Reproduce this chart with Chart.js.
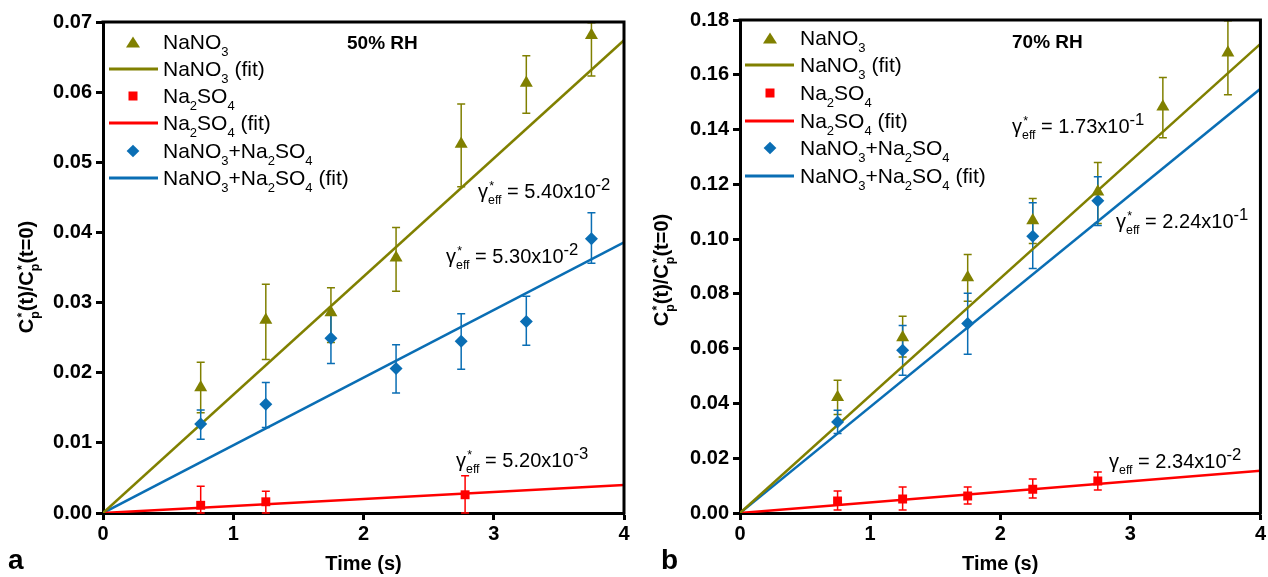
<!DOCTYPE html>
<html lang="en">
<head>
  <meta charset="UTF-8">
  <title>Uptake - 50% RH and 70% RH</title>
  <script src="https://cdn.jsdelivr.net/npm/chart.js"></script>
  <style>
    body { margin: 0; background: #fff; font-family: "Liberation Sans", Arial, sans-serif; }
    #wrap { position: relative; width: 1268px; height: 577px; overflow: hidden; }
    canvas { position: absolute; top: 0; }
    .t { position: absolute; white-space: nowrap; color: #000; line-height: 20px; }
    .leg { font-size: 21px; }
    .ann { font-size: 20px; }
    .rh { font-size: 19px; font-weight: bold; }
    .panel { font-size: 28px; font-weight: bold; }
    .ytitle { font-size: 20px; font-weight: bold; transform: translate(-50%, -50%) rotate(-90deg); }
    sub { font-size: 0.62em; vertical-align: -0.5em; line-height: 0; }
    .ss { display: inline-block; position: relative; font-size: 0.62em; vertical-align: -0.5em; line-height: 0; }
    .ss i { font-style: normal; position: absolute; left: 0.1em; top: -1.1em; }
    .mk { position: absolute; }
    .tri { width: 0; height: 0; border-left: 7px solid transparent; border-right: 7px solid transparent; border-bottom: 11px solid #808000; transform: translate(-50%, -50%); }
    .sq { width: 9px; height: 9px; background: #ff0000; transform: translate(-50%, -50%); }
    .dia { width: 9px; height: 9px; background: #0a6eb4; transform: translate(-50%, -50%) rotate(45deg); }
    .ln { height: 3px; transform: translateY(-50%); }
  </style>
</head>
<body>
<div id="wrap">
  <canvas id="chartA" width="634" height="577" style="left:0"></canvas>
  <canvas id="chartB" width="634" height="577" style="left:634px"></canvas>
</div>

<script>
  // time points (s)
  const times = [0.75, 1.25, 1.75, 2.25, 2.75, 3.25, 3.75];
  const xTicks = [0, 1, 2, 3, 4];

  // panel a : 50% RH
  const nano3A   = [0.0179, 0.0275, 0.0286, 0.0364, 0.0526, 0.0613, 0.0681];
  const nano3AHi = [0.0215, 0.0326, 0.0321, 0.0407, 0.0583, 0.0652, 0.0699];
  const nano3ALo = [0.0143, 0.0219, 0.0243, 0.0316, 0.0465, 0.0570, 0.0623];
  const so4ATimes = [0.75, 1.25, 2.78];
  const so4A   = [0.0011, 0.0016, 0.0026];
  const so4AHi = [0.0038, 0.0031, 0.0053];
  const so4ALo = [0.0, 0.0, 0.0];
  const mixA   = [0.0127, 0.0155, 0.0249, 0.0206, 0.0245, 0.0273, 0.0391];
  const mixAHi = [0.0147, 0.0186, 0.0286, 0.0240, 0.0284, 0.0309, 0.0428];
  const mixALo = [0.0105, 0.0122, 0.0213, 0.0171, 0.0205, 0.0239, 0.0356];
  const fitA = [0.0674, 0.0040, 0.0386];   // NaNO3, Na2SO4, mix at t = 4 s

  // panel b : 70% RH
  const nano3B   = [0.0423, 0.0641, 0.0860, 0.1068, 0.1173, 0.1483, 0.1680];
  const nano3BHi = [0.0485, 0.0718, 0.0944, 0.1148, 0.1280, 0.1590, 0.1797];
  const nano3BLo = [0.0360, 0.0570, 0.0773, 0.0984, 0.1057, 0.1370, 0.1527];
  const so4BTimes = [0.75, 1.25, 1.75, 2.25, 2.75];
  const so4B   = [0.0044, 0.0051, 0.0062, 0.0087, 0.0117];
  const so4BHi = [0.0080, 0.0095, 0.0095, 0.0124, 0.0150];
  const so4BLo = [0.0011, 0.0011, 0.0033, 0.0055, 0.0084];
  const mixBTimes = [0.75, 1.25, 1.75, 2.25, 2.75];
  const mixB   = [0.0332, 0.0594, 0.0692, 0.1010, 0.1140];
  const mixBHi = [0.0375, 0.0685, 0.0802, 0.1133, 0.1228];
  const mixBLo = [0.0290, 0.0503, 0.0580, 0.0893, 0.1050];
  const fitB = [0.1713, 0.0154, 0.1549];

  const OLIVE = '#808000', RED = '#ff0000', BLUE = '#0a6eb4';
  const FONT = '"Liberation Sans", Arial, sans-serif';

  const pts = (xs, ys) => xs.map((x, i) => ({ x: x, y: ys[i] }));

  // error bars drawn from the chart scales
  const errorBars = {
    id: 'errorBars',
    beforeDatasetsDraw(chart) {
      const ctx = chart.ctx, xs = chart.scales.x, ys = chart.scales.y;
      chart.data.datasets.forEach(ds => {
        if (!ds.errHi) return;
        ctx.save();
        ctx.strokeStyle = ds.borderColor;
        ctx.lineWidth = 1.5;
        ds.data.forEach((p, i) => {
          const x = xs.getPixelForValue(p.x);
          const y1 = ys.getPixelForValue(ds.errHi[i]);
          const y2 = ys.getPixelForValue(ds.errLo[i]);
          ctx.beginPath();
          ctx.moveTo(x, y1); ctx.lineTo(x, y2);
          ctx.moveTo(x - 4, y1); ctx.lineTo(x + 4, y1);
          ctx.moveTo(x - 4, y2); ctx.lineTo(x + 4, y2);
          ctx.stroke();
        });
        ctx.restore();
      });
    }
  };

  // top and right side of the box
  const frame = {
    id: 'frame',
    afterDraw(chart) {
      const a = chart.chartArea, ctx = chart.ctx;
      ctx.save();
      ctx.strokeStyle = '#000';
      ctx.lineWidth = 3;
      ctx.beginPath();
      ctx.moveTo(a.left - 1.5, a.top);
      ctx.lineTo(a.right, a.top);
      ctx.lineTo(a.right, a.bottom + 1.5);
      ctx.stroke();
      ctx.restore();
    }
  };

  function makeChart(id, cfg) {
    const datasets = [
      { type: 'scatter', data: pts(times, cfg.nano3), errHi: cfg.nano3Hi, errLo: cfg.nano3Lo,
        pointStyle: 'triangle', pointRadius: 7.5, backgroundColor: OLIVE, borderColor: OLIVE, borderWidth: 0, order: 1 },
      { type: 'line', data: [{ x: 0, y: 0 }, { x: 4, y: cfg.fit[0] }],
        borderColor: OLIVE, borderWidth: 2.5, pointRadius: 0, order: 4 },
      { type: 'scatter', data: pts(cfg.so4Times, cfg.so4), errHi: cfg.so4Hi, errLo: cfg.so4Lo,
        pointStyle: 'rect', pointRadius: 6.3, backgroundColor: RED, borderColor: RED, borderWidth: 0, order: 2 },
      { type: 'line', data: [{ x: 0, y: 0 }, { x: 4, y: cfg.fit[1] }],
        borderColor: RED, borderWidth: 2.5, pointRadius: 0, order: 5 },
      { type: 'scatter', data: pts(cfg.mixTimes, cfg.mix), errHi: cfg.mixHi, errLo: cfg.mixLo,
        pointStyle: 'rectRot', pointRadius: 6.5, backgroundColor: BLUE, borderColor: BLUE, borderWidth: 0, order: 3 },
      { type: 'line', data: [{ x: 0, y: 0 }, { x: 4, y: cfg.fit[2] }],
        borderColor: BLUE, borderWidth: 2.5, pointRadius: 0, order: 6 }
    ];

    return new Chart(document.getElementById(id), {
      data: { datasets: datasets },
      plugins: [errorBars, frame],
      options: {
        responsive: false,
        animation: false,
        layout: { padding: { left: 0, right: cfg.padRight, top: cfg.padTop, bottom: 0 } },
        plugins: { legend: { display: false }, tooltip: { enabled: false } },
        scales: {
          x: {
            type: 'linear', min: 0, max: 4,
            afterFit: s => { s.height = 64; },
            afterBuildTicks: s => { s.ticks = xTicks.map(v => ({ value: v })); },
            grid: { drawOnChartArea: false, drawTicks: true, tickLength: 7, tickWidth: 3, tickColor: '#000' },
            border: { display: true, color: '#000', width: 3 },
            ticks: { color: '#000', padding: 2, font: { family: FONT, size: 20, weight: 'bold' } },
            title: { display: true, text: 'Time (s)', color: '#000', padding: { top: 0, bottom: 1 },
                     font: { family: FONT, size: 20, weight: 'bold' } }
          },
          y: {
            type: 'linear', min: 0, max: cfg.yMax,
            afterFit: s => { s.width = cfg.axisLeft; },
            afterBuildTicks: s => { s.ticks = cfg.yTicks.map(v => ({ value: v })); },
            grid: { drawOnChartArea: false, drawTicks: true, tickLength: 7, tickWidth: 3, tickColor: '#000' },
            border: { display: true, color: '#000', width: 3 },
            ticks: { color: '#000', padding: 4, callback: v => v.toFixed(2),
                     font: { family: FONT, size: 20, weight: 'bold' } }
          }
        }
      }
    });
  }

  makeChart('chartA', {
    nano3: nano3A, nano3Hi: nano3AHi, nano3Lo: nano3ALo,
    so4Times: so4ATimes, so4: so4A, so4Hi: so4AHi, so4Lo: so4ALo,
    mixTimes: times, mix: mixA, mixHi: mixAHi, mixLo: mixALo,
    fit: fitA, yMax: 0.07, yTicks: [0, 0.01, 0.02, 0.03, 0.04, 0.05, 0.06, 0.07],
    axisLeft: 103, padRight: 10, padTop: 22
  });

  makeChart('chartB', {
    nano3: nano3B, nano3Hi: nano3BHi, nano3Lo: nano3BLo,
    so4Times: so4BTimes, so4: so4B, so4Hi: so4BHi, so4Lo: so4BLo,
    mixTimes: mixBTimes, mix: mixB, mixHi: mixBHi, mixLo: mixBLo,
    fit: fitB, yMax: 0.18, yTicks: [0, 0.02, 0.04, 0.06, 0.08, 0.10, 0.12, 0.14, 0.16, 0.18],
    axisLeft: 106, padRight: 6, padTop: 20
  });

  // text overlays (need sub/superscripts)
  const wrap = document.getElementById('wrap');
  function addText(cls, html, left, cy, extra) {
    const d = document.createElement('div');
    d.className = 't ' + cls;
    d.innerHTML = html;
    d.style.left = left + 'px';
    d.style.top = (cy - 10) + 'px';
    if (extra) Object.assign(d.style, extra);
    wrap.appendChild(d);
    return d;
  }
  function addMark(cls, left, top, extra) {
    const d = document.createElement('div');
    d.className = 'mk ' + cls;
    d.style.left = left + 'px';
    d.style.top = top + 'px';
    if (extra) Object.assign(d.style, extra);
    wrap.appendChild(d);
  }

  const legendNames = [
    'NaNO<sub>3</sub>',
    'NaNO<sub>3</sub> (fit)',
    'Na<sub>2</sub>SO<sub>4</sub>',
    'Na<sub>2</sub>SO<sub>4</sub> (fit)',
    'NaNO<sub>3</sub>+Na<sub>2</sub>SO<sub>4</sub>',
    'NaNO<sub>3</sub>+Na<sub>2</sub>SO<sub>4</sub> (fit)'
  ];
  const legendColors = [OLIVE, RED, BLUE];

  function legend(markX, lineL, lineR, textX, rows) {
    legendNames.forEach((name, i) => {
      const cy = rows[i];
      const c = legendColors[Math.floor(i / 2)];
      if (i % 2 === 0) {
        addMark(['tri', 'sq', 'dia'][i / 2], markX, cy);
      } else {
        addMark('ln', lineL, cy, { width: (lineR - lineL) + 'px', background: c });
      }
      addText('leg', name, textX, cy);
    });
  }
  legend(133, 109, 158, 163, [42, 68.5, 96, 123, 151, 178]);
  legend(770, 745, 794, 800, [38, 65, 93, 121, 148, 176]);

  const gStar = 'γ<span class="ss"><i>*</i>eff</span>';
  const gPlain = 'γ<span class="ss">eff</span>';
  addText('ann', gStar + ' = 5.40x10<sup>-2</sup>', 478, 185);
  addText('ann', gStar + ' = 5.30x10<sup>-2</sup>', 446, 250);
  addText('ann', gStar + ' = 5.20x10<sup>-3</sup>', 456, 454);
  addText('ann', gStar + ' = 1.73x10<sup>-1</sup>', 1012, 120);
  addText('ann', gStar + ' = 2.24x10<sup>-1</sup>', 1116, 215);
  addText('ann', gPlain + ' = 2.34x10<sup>-2</sup>', 1109, 455);

  addText('rh', '50% RH', 347, 43);
  addText('rh', '70% RH', 1012, 42);
  addText('panel', 'a', 8, 560);
  addText('panel', 'b', 661, 560);

  const yTitle = 'C<span class="ss"><i>*</i>p</span>(t)/C<span class="ss"><i>*</i>p</span>(t=0)';
  const ya = addText('ytitle', yTitle, 26, 277);
  ya.style.top = '277px';
  const yb = addText('ytitle', yTitle, 661, 270);
  yb.style.top = '270px';
</script>
</body>
</html>
